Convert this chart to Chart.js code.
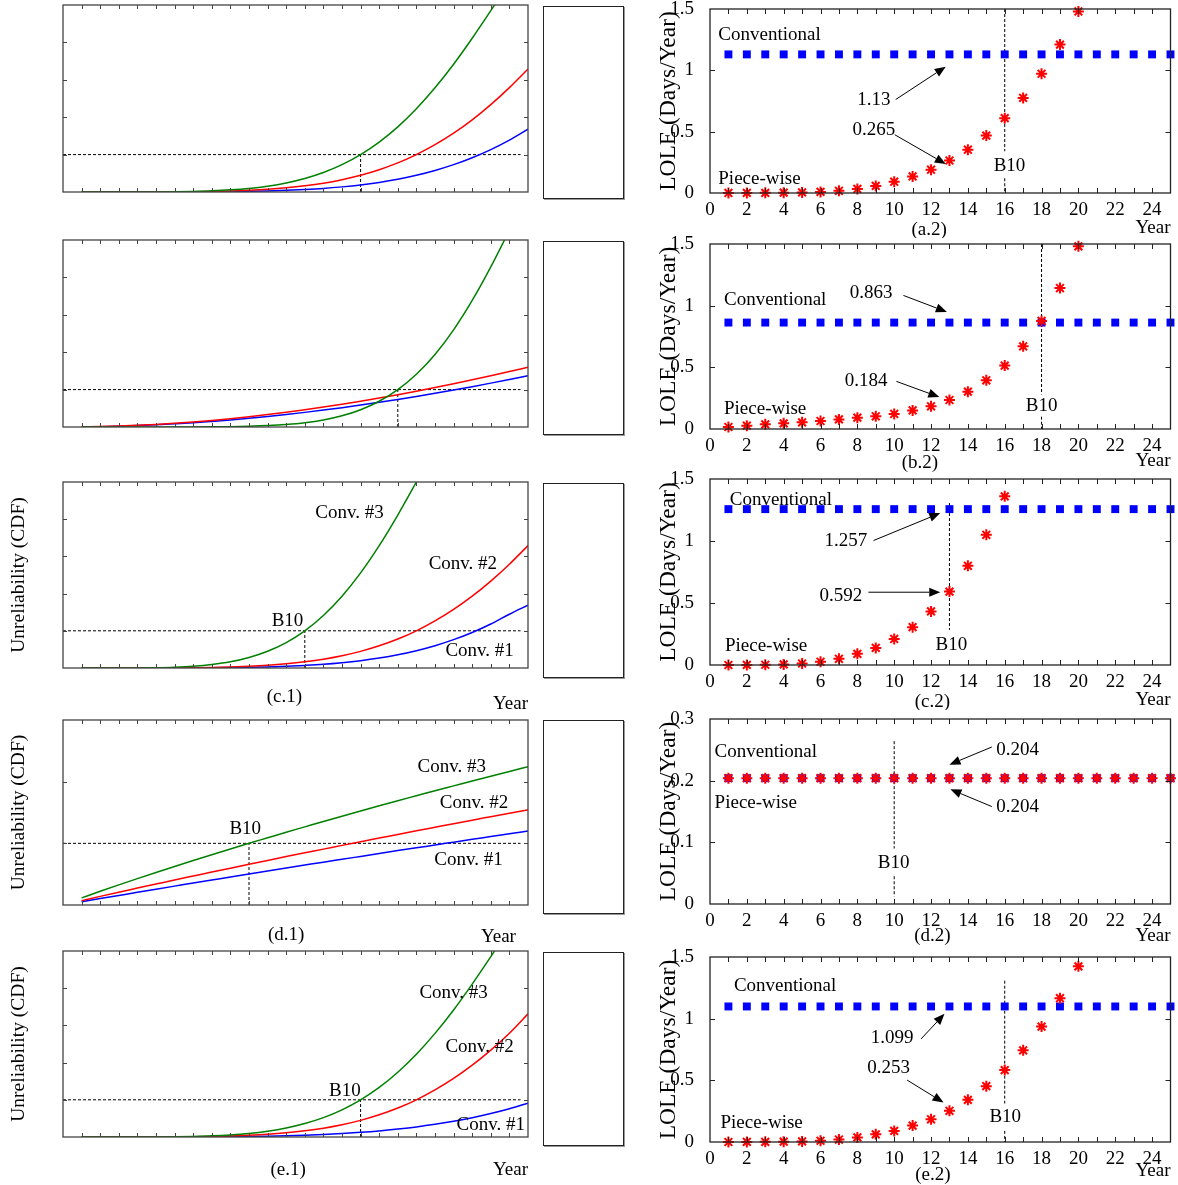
<!DOCTYPE html>
<html>
<head>
<meta charset="utf-8">
<script src="https://cdn.jsdelivr.net/npm/chart.js@4.4.1/dist/chart.umd.min.js"></script>
<style>
  body { margin: 0; background: #fff; width: 1178px; height: 1185px; position: relative; overflow: hidden; }
  canvas { position: absolute; }
  .box { position: absolute; border: 1px solid #222; box-shadow: 1px 1px 0 #999; box-sizing: border-box; }
</style>
</head>
<body>
<div class="box" style="left:543px;top:6px;width:81px;height:193px"></div>
<div class="box" style="left:543px;top:241px;width:81px;height:194px"></div>
<div class="box" style="left:543px;top:483px;width:81px;height:195px"></div>
<div class="box" style="left:543px;top:720px;width:81px;height:194px"></div>
<div class="box" style="left:543px;top:952px;width:81px;height:194px"></div>
<script>
// ---- data ----
var years = [1,2,3,4,5,6,7,8,9,10,11,12,13,14,15,16,17,18,19,20,21,22,23,24,25];

// unreliability (CDF) of conv. #1 / #2 / #3, one value per year
var cdfA1 = [0,0,0,0,0.0001,0.0001,0.0003,0.0006,0.001,0.0018,0.0029,0.0044,0.0067,0.0096,0.0137,0.0189,0.0257,0.0342,0.0447,0.0576,0.0731,0.0916,0.1134,0.1388,0.168];
var cdfA2 = [0,0,0,0.0001,0.0002,0.0004,0.0008,0.0016,0.0028,0.0047,0.0074,0.0113,0.0166,0.0236,0.033,0.0447,0.0596,0.0778,0.1,0.1265,0.1573,0.193,0.2336,0.279,0.329];
var cdfA3 = [0,0,0,0.0001,0.0003,0.0007,0.0016,0.0031,0.0057,0.0096,0.0156,0.0242,0.0361,0.0521,0.0731,0.1,0.1334,0.1742,0.2226,0.2786,0.3416,0.4111,0.4848,0.5608,0.6366];

var cdfB1 = [0.0002,0.0009,0.0021,0.0038,0.0059,0.0085,0.0114,0.015,0.0189,0.0233,0.0281,0.0334,0.0391,0.0452,0.0517,0.0586,0.0659,0.0736,0.0817,0.0901,0.0988,0.1079,0.1173,0.1271,0.1371];
var cdfB2 = [0.0003,0.0011,0.0025,0.0045,0.0069,0.01,0.0136,0.0177,0.0223,0.0275,0.0332,0.0393,0.046,0.0532,0.0608,0.0689,0.0774,0.0863,0.0957,0.1055,0.1157,0.1262,0.1371,0.1483,0.1599];
var cdfB3 = [0,0,0,0,0,0.0001,0.0002,0.0004,0.0009,0.0019,0.0037,0.0067,0.0114,0.0188,0.0299,0.0461,0.0689,0.1,0.1411,0.194,0.2598,0.3383,0.428,0.5263,0.627];

var cdfC1 = [0,0,0,0,0.0001,0.0001,0.0003,0.0006,0.0011,0.0019,0.003,0.0046,0.007,0.01,0.0143,0.0198,0.0268,0.0356,0.0466,0.06,0.0762,0.0955,0.1182,0.1446,0.169];
var cdfC2 = [0,0,0,0.0001,0.0002,0.0004,0.0008,0.0016,0.0028,0.0047,0.0074,0.0113,0.0166,0.0236,0.033,0.0447,0.0596,0.0778,0.1,0.1265,0.1573,0.193,0.2336,0.279,0.329];
var cdfC3 = [0,0,0.0001,0.0003,0.0009,0.0023,0.0049,0.0095,0.0168,0.0284,0.0451,0.0684,0.1,0.1413,0.193,0.2557,0.329,0.4112,0.5,0.5906,0.6795,0.7614,0.8324,0.89,0.933];

var cdfD1 = [0.0053,0.0104,0.0155,0.0206,0.0256,0.0306,0.0356,0.0405,0.0453,0.0503,0.0551,0.0599,0.0647,0.0695,0.0741,0.0788,0.0835,0.0882,0.0928,0.0973,0.1019,0.1065,0.1109,0.1155,0.12];
var cdfD2 = [0.0071,0.014,0.0208,0.0274,0.034,0.0406,0.047,0.0534,0.0597,0.066,0.0723,0.0785,0.0846,0.0906,0.0967,0.1026,0.1085,0.1144,0.1203,0.1261,0.1319,0.1376,0.1432,0.1488,0.1544];
var cdfD3 = [0.0115,0.0222,0.0327,0.0428,0.0527,0.0625,0.0721,0.0815,0.0908,0.1,0.109,0.118,0.1267,0.1354,0.144,0.1524,0.1608,0.1691,0.1772,0.1853,0.1932,0.2011,0.2089,0.2166,0.2242];

var cdfE1 = [0,0,0,0,0.0001,0.0001,0.0003,0.0005,0.0009,0.0015,0.0023,0.0034,0.0049,0.0069,0.0094,0.0125,0.0164,0.0213,0.027,0.034,0.0423,0.0519,0.0632,0.0762,0.091];
var cdfE2 = [0,0,0,0.0001,0.0002,0.0004,0.0008,0.0016,0.0028,0.0047,0.0074,0.0113,0.0166,0.0236,0.033,0.0447,0.0596,0.0778,0.1,0.1265,0.1573,0.193,0.2336,0.279,0.331];
var cdfE3 = [0,0,0,0.0001,0.0003,0.0007,0.0016,0.0031,0.0057,0.0096,0.0156,0.0242,0.0361,0.0521,0.0731,0.1,0.1334,0.1742,0.2226,0.2786,0.3416,0.4111,0.4848,0.5608,0.6366];

// LOLE, piece-wise (red stars) and conventional (blue squares)
var pwA = [0.0003,0.0008,0.0015,0.003,0.005,0.009,0.018,0.033,0.058,0.092,0.135,0.19,0.265,0.353,0.468,0.61,0.775,0.972,1.21,1.48];
var pwB = [0.016,0.027,0.038,0.046,0.054,0.065,0.078,0.092,0.103,0.122,0.151,0.184,0.235,0.303,0.395,0.514,0.67,0.876,1.143,1.481];
var pwC = [0,0.001,0.002,0.005,0.012,0.026,0.05,0.09,0.138,0.21,0.305,0.432,0.592,0.8,1.05,1.36];
var pwD = [0.204,0.204,0.204,0.204,0.204,0.204,0.204,0.204,0.204,0.204,0.204,0.204,0.204,0.204,0.204,0.204,0.204,0.204,0.204,0.204,0.204,0.204,0.204,0.204,0.204];
var pwE = [0.0002,0.0006,0.0012,0.0025,0.005,0.01,0.02,0.037,0.062,0.09,0.133,0.184,0.253,0.342,0.453,0.583,0.743,0.936,1.166,1.424];

var convA = [1.13,1.13,1.13,1.13,1.13,1.13,1.13,1.13,1.13,1.13,1.13,1.13,1.13,1.13,1.13,1.13,1.13,1.13,1.13,1.13,1.13,1.13,1.13,1.13,1.13];
var convB = [0.863,0.863,0.863,0.863,0.863,0.863,0.863,0.863,0.863,0.863,0.863,0.863,0.863,0.863,0.863,0.863,0.863,0.863,0.863,0.863,0.863,0.863,0.863,0.863,0.863];
var convC = [1.257,1.257,1.257,1.257,1.257,1.257,1.257,1.257,1.257,1.257,1.257,1.257,1.257,1.257,1.257,1.257,1.257,1.257,1.257,1.257,1.257,1.257,1.257,1.257,1.257];
var convD = [0.204,0.204,0.204,0.204,0.204,0.204,0.204,0.204,0.204,0.204,0.204,0.204,0.204,0.204,0.204,0.204,0.204,0.204,0.204,0.204,0.204,0.204,0.204,0.204,0.204];
var convE = [1.099,1.099,1.099,1.099,1.099,1.099,1.099,1.099,1.099,1.099,1.099,1.099,1.099,1.099,1.099,1.099,1.099,1.099,1.099,1.099,1.099,1.099,1.099,1.099,1.099];

var b10 = {a: 16, b: 18, c: 13, d: 10, e: 16};   // B10 life in years
var b10Level = 0.1;                              // 10% unreliability

// ---- helpers ----
Chart.defaults.font.family = '"Liberation Serif", "Times New Roman", serif';
Chart.defaults.font.size = 19;
Chart.defaults.color = '#000';
var FONT = '19px "Liberation Serif", "Times New Roman", serif';

function pts(vals) {
  return vals.map(function(v, i) { return {x: years[i], y: v}; });
}
function curve(vals, color) {
  return {data: pts(vals), showLine: true, borderColor: color, borderWidth: 1.5, pointRadius: 0,
          cubicInterpolationMode: 'monotone'};
}
function dash(p) {
  return {data: p, showLine: true, borderColor: '#000', borderWidth: 1, borderDash: [3, 2],
          pointRadius: 0, spanGaps: false};
}
function stars(vals) {
  return {data: pts(vals), pointStyle: 'star', pointRadius: 5.5, borderColor: '#ff0000',
          backgroundColor: '#ff0000', borderWidth: 2, clip: false};
}
function squares(vals) {
  return {data: pts(vals), pointStyle: 'rect', pointRadius: 5.6, borderWidth: 0,
          backgroundColor: '#0000ff', borderColor: '#0000ff', clip: false};
}

function deco(cfg) {
  return {
    id: 'deco',
    afterDatasetsDraw: function(chart) {
      var ctx = chart.ctx, a = chart.chartArea, xs = chart.scales.x, ys = chart.scales.y;
      ctx.save();
      ctx.strokeStyle = cfg.color; ctx.lineWidth = 1;
      ctx.beginPath();
      for (var v = cfg.xStep; v < xs.max - 1e-6; v += cfg.xStep) {
        var px = Math.round(xs.getPixelForValue(v)) + 0.5;
        ctx.moveTo(px, a.bottom); ctx.lineTo(px, a.bottom - cfg.tick);
        ctx.moveTo(px, a.top); ctx.lineTo(px, a.top + cfg.tick);
      }
      for (var w = ys.min + cfg.yStep; w < ys.max - 1e-6; w += cfg.yStep) {
        var py = Math.round(ys.getPixelForValue(w)) + 0.5;
        ctx.moveTo(a.left, py); ctx.lineTo(a.left + cfg.tick, py);
        ctx.moveTo(a.right, py); ctx.lineTo(a.right - cfg.tick, py);
      }
      ctx.stroke();
      ctx.lineWidth = 1.3;
      ctx.strokeRect(a.left, a.top, a.right - a.left, a.bottom - a.top);

      ctx.fillStyle = '#000'; ctx.font = FONT; ctx.textBaseline = 'middle';
      (cfg.texts || []).forEach(function(s) {
        ctx.textAlign = s.align || 'center';
        var py = s.dy !== undefined ? a.bottom + s.dy : ys.getPixelForValue(s.y);
        ctx.fillText(s.t, xs.getPixelForValue(s.x), py);
      });

      ctx.strokeStyle = '#000'; ctx.lineWidth = 1;
      (cfg.arrows || []).forEach(function(r) {
        var x1 = xs.getPixelForValue(r[0]), y1 = ys.getPixelForValue(r[1]);
        var x2 = xs.getPixelForValue(r[2]), y2 = ys.getPixelForValue(r[3]);
        var an = Math.atan2(y2 - y1, x2 - x1), c = Math.cos(an), s = Math.sin(an), L = 11, W = 4.5;
        ctx.beginPath(); ctx.moveTo(x1, y1); ctx.lineTo(x2 - L * c, y2 - L * s); ctx.stroke();
        ctx.beginPath(); ctx.moveTo(x2, y2);
        ctx.lineTo(x2 - L * c + W * s, y2 - L * s - W * c);
        ctx.lineTo(x2 - L * c - W * s, y2 - L * s + W * c);
        ctx.closePath(); ctx.fill();
      });
      ctx.restore();
    }
  };
}

// rect = [left, top, width, height] of canvas, area = [left, top, right, bottom] of plot
function panel(rect, area, datasets, sx, sy, cfg) {
  var cv = document.createElement('canvas');
  cv.width = rect[2]; cv.height = rect[3];
  cv.style.left = rect[0] + 'px'; cv.style.top = rect[1] + 'px';
  document.body.appendChild(cv);
  sx.afterFit = function(s) { s.height = rect[1] + rect[3] - area[3]; };
  sy.afterFit = function(s) { s.width = area[0] - rect[0]; };
  return new Chart(cv, {
    type: 'scatter',
    data: {datasets: datasets},
    options: {
      responsive: false, animation: false, devicePixelRatio: 1, events: [],
      layout: {padding: {left: 0, top: area[1] - rect[1], right: rect[0] + rect[2] - area[2], bottom: 0}},
      plugins: {legend: {display: false}, tooltip: {enabled: false}},
      scales: {x: sx, y: sy}
    },
    plugins: [deco(cfg)]
  });
}

function xLeft() {
  return {type: 'linear', min: 0, max: 25, grid: {display: false}, border: {display: false}, ticks: {display: false}};
}
function yLeft(max, title) {
  return {type: 'linear', min: 0, max: max, grid: {display: false}, border: {display: false}, ticks: {display: false},
          title: {display: title, text: 'Unreliability (CDF)', font: {size: 19.5}, padding: {top: 7.3, bottom: 0}}};
}
function xRight() {
  return {type: 'linear', min: 0, max: 25, grid: {display: false}, border: {display: false},
          ticks: {stepSize: 1, autoSkip: false, maxRotation: 0, padding: -2,
                  callback: function(v) { return (v % 2 === 0 && v < 25) ? String(v) : ''; }}};
}
function yRight(max, step) {
  return {type: 'linear', min: 0, max: max, grid: {display: false}, border: {display: false},
          ticks: {stepSize: step, padding: 8,
                  callback: function(v) { return String(Math.round(v * 100) / 100); }},
          title: {display: true, text: 'LOLE (Days/Year)', font: {size: 23.5}, padding: {top: 15, bottom: 0}}};
}
function leftRect(area) { return [0, area[1] - 6, 540, area[3] + 45 - (area[1] - 6)]; }
function rightRect(area) { return [640, area[1] - 24, 538, area[3] + 45 - (area[1] - 24)]; }

function b10Lines(year) {
  return [dash([{x: 0, y: b10Level}, {x: 24.6, y: b10Level}]),
          dash([{x: year, y: 0}, {x: year, y: b10Level}])];
}
function leftSets(c1, c2, c3, year) {
  return [curve(c3, '#008000'), curve(c2, '#ff0000'), curve(c1, '#0000ff')].concat(b10Lines(year));
}

// ---- left column (x.1) ----
var LA = [63, 5, 528, 192], LB = [63, 240, 528, 427], LC = [63, 482, 528, 668], LD = [63, 720, 528, 905], LE = [63, 951, 528, 1137];
panel(leftRect(LA), LA, leftSets(cdfA1, cdfA2, cdfA3, b10.a), xLeft(), yLeft(0.5, false),
      {color: '#444', xStep: 1, yStep: 0.1, tick: 4});
panel(leftRect(LB), LB, leftSets(cdfB1, cdfB2, cdfB3, b10.b), xLeft(), yLeft(0.5, false),
      {color: '#444', xStep: 1, yStep: 0.1, tick: 4});
panel(leftRect(LC), LC, leftSets(cdfC1, cdfC2, cdfC3, b10.c), xLeft(), yLeft(0.5, true),
      {color: '#444', xStep: 1, yStep: 0.1, tick: 4, texts: [
        {t: 'Conv. #3', x: 15.4, y: 0.417}, {t: 'Conv. #2', x: 21.5, y: 0.28},
        {t: 'Conv. #1', x: 22.4, y: 0.045}, {t: 'B10', x: 12.07, y: 0.125},
        {t: '(c.1)', x: 11.9, dy: 29}, {t: 'Year', x: 25, dy: 36, align: 'right'}]});
panel(leftRect(LD), LD, leftSets(cdfD1, cdfD2, cdfD3, b10.d), xLeft(), yLeft(0.3, true),
      {color: '#444', xStep: 1, yStep: 0.1, tick: 4, texts: [
        {t: 'Conv. #3', x: 20.9, y: 0.224}, {t: 'Conv. #2', x: 22.1, y: 0.165},
        {t: 'Conv. #1', x: 21.8, y: 0.073}, {t: 'B10', x: 9.8, y: 0.124},
        {t: '(d.1)', x: 12, dy: 30}, {t: 'Year', x: 24.35, dy: 32, align: 'right'}]});
panel(leftRect(LE), LE, leftSets(cdfE1, cdfE2, cdfE3, b10.e), xLeft(), yLeft(0.5, true),
      {color: '#444', xStep: 1, yStep: 0.1, tick: 4, texts: [
        {t: 'Conv. #3', x: 21, y: 0.386}, {t: 'Conv. #2', x: 22.4, y: 0.241},
        {t: 'Conv. #1', x: 23, y: 0.033}, {t: 'B10', x: 15.15, y: 0.123},
        {t: '(e.1)', x: 12.1, dy: 33}, {t: 'Year', x: 25, dy: 33, align: 'right'}]});

// ---- right column (x.2) ----
var RA = [710, 9, 1172, 193], RB = [710, 244, 1172, 429], RC = [710, 479, 1172, 665], RD = [710, 719, 1172, 904], RE = [710, 957, 1172, 1142];
panel(rightRect(RA), RA, [stars(pwA), squares(convA),
      dash([{x: b10.a, y: 1.5}, {x: b10.a, y: 0.34}, {x: b10.a, y: null}, {x: b10.a, y: 0.12}, {x: b10.a, y: 0}])],
      xRight(), yRight(1.5, 0.5),
      {color: '#222', xStep: 1, yStep: 0.5, tick: 5, texts: [
        {t: 'Conventional', x: 0.45, y: 1.29, align: 'left'}, {t: '1.13', x: 8.9, y: 0.76},
        {t: '0.265', x: 8.9, y: 0.51}, {t: 'B10', x: 16.26, y: 0.222},
        {t: 'Piece-wise', x: 0.45, y: 0.11, align: 'left'},
        {t: '(a.2)', x: 11.9, dy: 37}, {t: 'Year', x: 25, dy: 35, align: 'right'}],
       arrows: [[10.08, 0.762, 12.8, 1.03], [10.03, 0.475, 12.8, 0.236]]});
panel(rightRect(RB), RB, [stars(pwB), squares(convB),
      dash([{x: b10.b, y: 1.5}, {x: b10.b, y: 0.28}, {x: b10.b, y: null}, {x: b10.b, y: 0.1}, {x: b10.b, y: 0}])],
      xRight(), yRight(1.5, 0.5),
      {color: '#222', xStep: 1, yStep: 0.5, tick: 5, texts: [
        {t: 'Conventional', x: 0.76, y: 1.048, align: 'left'}, {t: '0.863', x: 8.75, y: 1.10},
        {t: '0.184', x: 8.48, y: 0.386}, {t: 'B10', x: 18, y: 0.183},
        {t: 'Piece-wise', x: 0.76, y: 0.165, align: 'left'},
        {t: '(b.2)', x: 11.4, dy: 34}, {t: 'Year', x: 25, dy: 32, align: 'right'}],
       arrows: [[10.5, 1.083, 12.86, 0.949], [10.12, 0.386, 12.45, 0.259]]});
panel(rightRect(RC), RC, [stars(pwC), squares(convC),
      dash([{x: b10.c, y: 1.306}, {x: b10.c, y: 0.283}])],
      xRight(), yRight(1.5, 0.5),
      {color: '#222', xStep: 1, yStep: 0.5, tick: 5, texts: [
        {t: 'Conventional', x: 1.07, y: 1.333, align: 'left'}, {t: '1.257', x: 7.37, y: 0.996},
        {t: '0.592', x: 7.1, y: 0.557}, {t: 'B10', x: 13.1, y: 0.162},
        {t: 'Piece-wise', x: 0.81, y: 0.153, align: 'left'},
        {t: '(c.2)', x: 12.07, dy: 37}, {t: 'Year', x: 25, dy: 35, align: 'right'}],
       arrows: [[8.88, 1.004, 12.5, 1.225], [8.6, 0.587, 12.5, 0.587]]});
panel(rightRect(RD), RD, [stars(pwD), squares(convD),
      dash([{x: b10.d, y: 0.264}, {x: b10.d, y: 0.09}, {x: b10.d, y: null}, {x: b10.d, y: 0.045}, {x: b10.d, y: 0.012}])],
      xRight(), yRight(0.3, 0.1),
      {color: '#222', xStep: 1, yStep: 0.1, tick: 5, texts: [
        {t: 'Conventional', x: 0.25, y: 0.246, align: 'left'}, {t: 'Piece-wise', x: 0.25, y: 0.164, align: 'left'},
        {t: '0.204', x: 16.7, y: 0.25}, {t: '0.204', x: 16.7, y: 0.158}, {t: 'B10', x: 9.97, y: 0.066},
        {t: '(d.2)', x: 12.07, dy: 32}, {t: 'Year', x: 25, dy: 32, align: 'right'}],
       arrows: [[15.3, 0.2546, 13.0, 0.226], [15.3, 0.158, 13.05, 0.186]]});
panel(rightRect(RE), RE, [stars(pwE), squares(convE),
      dash([{x: b10.e, y: 1.308}, {x: b10.e, y: 0.312}, {x: b10.e, y: null}, {x: b10.e, y: 0.09}, {x: b10.e, y: 0}])],
      xRight(), yRight(1.5, 0.5),
      {color: '#222', xStep: 1, yStep: 0.5, tick: 5, texts: [
        {t: 'Conventional', x: 1.3, y: 1.267, align: 'left'}, {t: '1.099', x: 9.89, y: 0.841},
        {t: '0.253', x: 9.7, y: 0.597}, {t: 'B10', x: 16.03, y: 0.203},
        {t: 'Piece-wise', x: 0.57, y: 0.155, align: 'left'},
        {t: '(e.2)', x: 12.1, dy: 33}, {t: 'Year', x: 25, dy: 29, align: 'right'}],
       arrows: [[11.46, 0.836, 12.73, 1.039], [10.7, 0.502, 12.68, 0.32]]});
</script>
</body>
</html>
